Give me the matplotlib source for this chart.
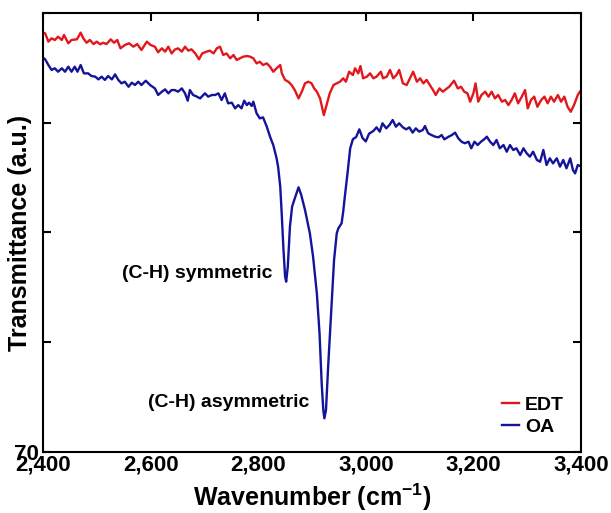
import matplotlib
matplotlib.use("Agg")
import matplotlib.pyplot as plt
from matplotlib.ticker import FuncFormatter

plt.rcParams['font.family'] = ['Liberation Sans', 'DejaVu Sans']
plt.rcParams['font.weight'] = 'bold'
plt.rcParams['mathtext.fontset'] = 'custom'
plt.rcParams['mathtext.rm'] = 'Liberation Sans:bold'
plt.rcParams['mathtext.bf'] = 'Liberation Sans:bold'
plt.rcParams['mathtext.it'] = 'Liberation Sans:bold'

# EDT series
wavenumber_edt = [2401, 2404, 2410, 2416, 2422, 2428, 2435, 2439, 2447, 2453, 2463, 2470, 2475,
                  2481, 2487, 2494, 2500, 2506, 2512, 2518, 2526, 2532, 2538, 2544, 2552, 2560,
                  2568, 2575, 2583, 2593, 2600, 2608, 2614, 2621, 2627, 2633, 2639, 2645, 2651,
                  2658, 2664, 2670, 2676, 2683, 2690, 2696, 2704, 2710, 2717, 2723, 2729, 2735,
                  2741, 2748, 2754, 2760, 2766, 2772, 2779, 2785, 2791, 2797, 2803, 2809, 2816,
                  2822, 2828, 2834, 2841, 2844, 2850, 2856, 2862, 2868, 2875, 2881, 2887, 2893,
                  2899, 2904, 2909, 2915, 2922, 2927, 2933, 2940, 2946, 2952, 2958, 2963, 2969,
                  2976, 2980, 2986, 2990, 2995, 3002, 3008, 3014, 3020, 3028, 3032, 3039, 3045,
                  3051, 3057, 3062, 3069, 3076, 3082, 3088, 3095, 3101, 3107, 3113, 3119, 3125,
                  3130, 3137, 3143, 3150, 3155, 3160, 3164, 3171, 3177, 3183, 3189, 3194, 3200,
                  3204, 3209, 3215, 3222, 3228, 3234, 3240, 3246, 3253, 3259, 3265, 3271, 3277,
                  3283, 3290, 3296, 3301, 3307, 3313, 3319, 3326, 3332, 3338, 3344, 3350, 3357,
                  3363, 3369, 3375, 3381, 3387, 3394, 3398]
transmittance_edt = [108.2, 108.15, 107.39, 107.69, 107.54, 107.84, 107.54, 108.0, 107.24, 107.54,
                     107.6, 108.21, 107.69, 107.29, 107.54, 107.17, 107.39, 107.15, 107.29, 107.17,
                     107.6, 107.29, 107.54, 106.78, 107.08, 107.24, 106.93, 107.17, 106.63, 107.39,
                     107.08, 106.93, 106.42, 106.78, 106.48, 106.93, 106.32, 106.66, 106.78, 106.48,
                     106.93, 106.57, 106.69, 106.32, 105.78, 106.32, 106.48, 106.57, 106.32, 106.78,
                     106.93, 106.17, 106.32, 105.87, 106.17, 105.72, 105.87, 106.02, 106.08, 106.02,
                     105.87, 105.41, 105.56, 105.26, 105.41, 105.11, 104.65, 104.96, 105.26, 104.5,
                     103.9, 103.74, 103.44, 102.98, 102.22, 102.83, 103.59, 103.74, 103.6, 103.13,
                     102.83, 102.22, 100.7, 101.61, 102.68, 103.44, 103.59, 103.74, 104.05, 103.74,
                     104.65, 104.35, 104.96, 104.5, 105.17, 104.05, 104.2, 104.5, 104.05, 104.2,
                     104.65, 104.05, 104.2, 104.81, 104.05, 104.35, 104.81, 103.59, 103.44, 104.05,
                     104.65, 103.74, 104.05, 103.59, 103.9, 103.44, 102.98, 102.53, 103.13, 102.83,
                     103.1, 103.28, 103.59, 103.83, 103.13, 103.28, 102.83, 102.68, 101.92, 102.68,
                     103.59, 101.92, 102.53, 102.83, 102.38, 102.83, 102.22, 102.53, 101.92, 102.07,
                     101.61, 102.07, 102.68, 101.77, 102.38, 102.98, 101.31, 102.07, 102.38, 101.46,
                     102.07, 102.38, 101.77, 102.38, 101.92, 102.53, 101.92, 102.38, 101.46, 101.0,
                     101.61, 102.53, 102.83]

# OA series
wavenumber_oa = [2401, 2404, 2410, 2416, 2422, 2428, 2435, 2441, 2447, 2453, 2459, 2464, 2470,
                 2476, 2484, 2490, 2497, 2503, 2509, 2515, 2521, 2528, 2534, 2540, 2546, 2552,
                 2559, 2565, 2571, 2577, 2583, 2591, 2599, 2608, 2614, 2621, 2627, 2633, 2639,
                 2645, 2651, 2658, 2664, 2669, 2673, 2679, 2686, 2692, 2701, 2707, 2714, 2720,
                 2726, 2732, 2738, 2744, 2751, 2757, 2763, 2769, 2774, 2779, 2783, 2788, 2791,
                 2797, 2803, 2809, 2816, 2822, 2828, 2834, 2837, 2841, 2844, 2847, 2850, 2852,
                 2855, 2859, 2863, 2868, 2875, 2880, 2887, 2896, 2902, 2909, 2914, 2918, 2921,
                 2923, 2926, 2930, 2937, 2941, 2946, 2949, 2955, 2958, 2961, 2966, 2971, 2976,
                 2982, 2988, 2994, 3000, 3006, 3014, 3020, 3026, 3031, 3038, 3044, 3050, 3056,
                 3062, 3069, 3075, 3081, 3087, 3093, 3099, 3106, 3110, 3116, 3122, 3129, 3135,
                 3141, 3146, 3153, 3160, 3166, 3172, 3178, 3184, 3191, 3196, 3202, 3208, 3214,
                 3220, 3225, 3231, 3237, 3243, 3249, 3256, 3262, 3268, 3274, 3280, 3287, 3293,
                 3299, 3305, 3311, 3318, 3324, 3330, 3336, 3342, 3348, 3355, 3361, 3367, 3373,
                 3380, 3385, 3389, 3394, 3398]
transmittance_oa = [105.9, 105.78, 105.26, 104.81, 104.96, 104.65, 104.96, 104.65, 105.11, 104.65,
                    105.11, 104.65, 105.26, 104.5, 104.5, 104.26, 104.2, 103.95, 104.2, 103.9,
                    104.26, 103.95, 104.41, 103.9, 103.59, 103.74, 103.28, 103.65, 103.44, 103.74,
                    103.44, 103.83, 103.44, 103.13, 102.53, 102.83, 103.04, 102.68, 102.98, 102.98,
                    102.83, 103.13, 102.68, 102.01, 102.98, 102.53, 102.38, 102.22, 102.68, 102.38,
                    102.53, 102.53, 102.68, 102.07, 102.68, 101.77, 101.83, 101.31, 101.61, 101.31,
                    102.01, 101.61, 101.83, 101.53, 101.92, 100.86, 100.4, 100.49, 99.64, 98.73,
                    97.97, 96.8, 95.99, 94.17, 91.44, 88.41, 85.97, 85.52, 86.88, 90.53,
                    92.35, 93.11, 94.12, 93.42, 92.05, 89.93, 87.8, 84.46, 80.82, 76.26,
                    73.83, 73.07, 73.83, 77.77, 83.85, 87.49, 89.93, 90.38, 90.84, 91.9,
                    93.26, 95.39, 97.67, 98.5, 98.7, 99.4, 98.6, 98.3, 99.0, 99.25,
                    99.58, 99.19, 99.95, 99.49, 99.8, 100.25, 99.64, 99.95, 99.58, 99.4,
                    99.58, 99.1, 99.49, 99.19, 99.34, 99.7, 99.04, 98.88, 98.73, 98.67,
                    98.88, 98.49, 98.7, 98.88, 99.1, 98.58, 98.27, 98.13, 98.27, 97.67,
                    98.27, 97.97, 98.27, 98.49, 98.73, 98.27, 97.97, 98.43, 97.67, 97.97,
                    97.36, 97.97, 97.52, 97.67, 97.06, 97.67, 97.22, 96.91, 97.36, 96.61,
                    96.45, 97.52, 96.15, 96.76, 96.3, 96.76, 96.0, 96.61, 95.85, 96.76,
                    95.7, 95.39, 96.15, 96.06]

series_labels = ['EDT', 'OA']
series_colors = ['#e3161b', '#13149a']
x_ticks = [2400, 2600, 2800, 3000, 3200, 3400]
y_ticks = [70, 80, 90, 100, 110]
y_tick_labels = ['70', '', '', '', '']
annotations = ['(C-H) symmetric', '(C-H) asymmetric']

fig = plt.figure(figsize=(6.11, 5.13), dpi=100)
ax = fig.add_axes([43 / 611, 1 - 452 / 513, 538 / 611, 439 / 513])

ax.plot(wavenumber_edt, transmittance_edt, color=series_colors[0], lw=1.7, label=series_labels[0])
ax.plot(wavenumber_oa, transmittance_oa, color=series_colors[1], lw=1.7, label=series_labels[1])

ax.set_xlim(2400, 3400)
ax.set_ylim(70, 110)
ax.set_xticks(x_ticks)
ax.xaxis.set_major_formatter(FuncFormatter(lambda v, p: f"{v:,.0f}"))
ax.set_yticks(y_ticks)
ax.set_yticklabels(y_tick_labels)

for s in ax.spines.values():
    s.set_linewidth(1.5)

ax.tick_params(axis='x', which='both', direction='in', top=True, bottom=False,
               length=6, width=1.5, labelsize=16, pad=2)
ax.tick_params(axis='y', which='both', direction='in', left=True, right=True,
               length=6, width=1.5, labelsize=16, pad=3)
for lbl in ax.get_xticklabels() + ax.get_yticklabels():
    lbl.set_fontweight('bold')

ax.set_xlabel(r'Wavenumber (cm$^{-1}$)', fontsize=18, fontweight='bold', labelpad=4)
ax.set_ylabel('Transmittance (a.u.)', fontsize=18, fontweight='bold')
ax.yaxis.set_label_coords(-0.021, 0.5)

ax.text(2827, 86.3, annotations[0], ha='right', va='center', fontsize=14, fontweight='bold')
ax.text(2896, 74.55, annotations[1], ha='right', va='center', fontsize=14, fontweight='bold')

leg = ax.legend(loc='lower right', frameon=False, fontsize=14, handlelength=0.9,
                handletextpad=0.3, labelspacing=0.25, borderaxespad=0.3,
                bbox_to_anchor=(0.994, 0.005))
for t in leg.get_texts():
    t.set_fontweight('bold')

fig.savefig('out.png', dpi=100)
